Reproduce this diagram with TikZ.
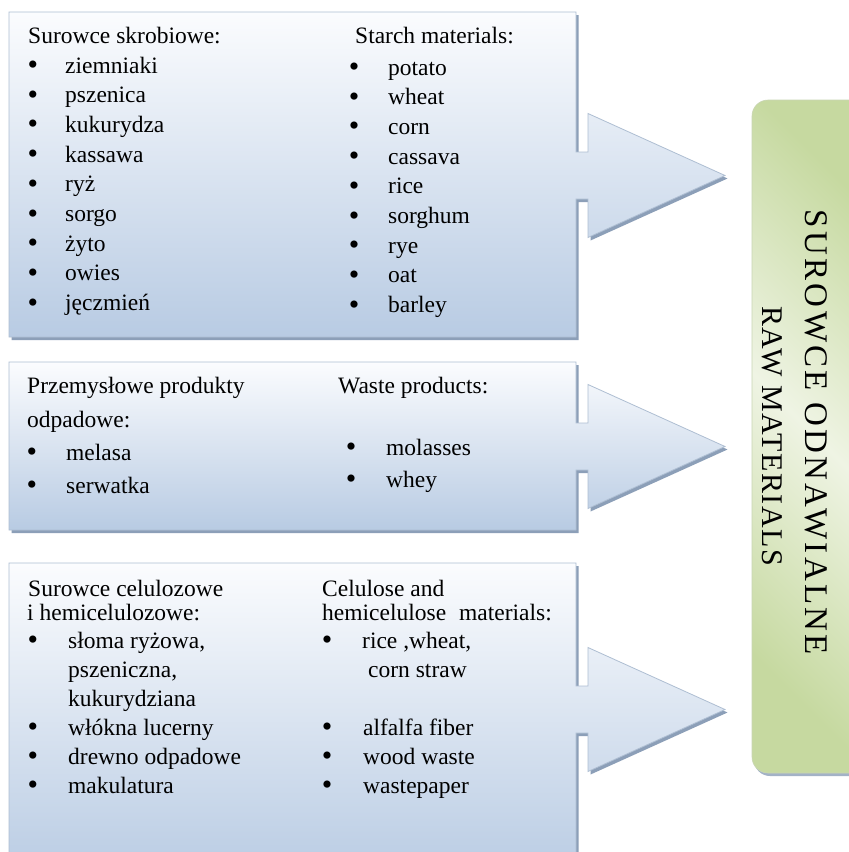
\documentclass[tikz,border=0pt]{standalone}
\usepackage{fontspec}
\setmainfont{Liberation Serif}
\definecolor{boxtop}{HTML}{FBFCFE}
\definecolor{boxbot}{HTML}{B8CBE3}
\definecolor{boxline}{HTML}{AEBED2}
\definecolor{shadowc}{HTML}{8C9FB8}
\definecolor{greenc}{HTML}{C6D9A0}
\definecolor{greenl}{HTML}{EFF4E4}
\definecolor{greenline}{HTML}{C9D6B4}
\newcommand\arrbox[3]{%
  \fill[shadowc, shift={(2.5,3)}] (9,#1) -- (576,#1) -- (576,{#3-23.5}) -- (588,{#3-23.5}) -- (588,{#3-62}) -- (725,#3) -- (588,{#3+62}) -- (588,{#3+23.5}) -- (576,{#3+23.5}) -- (576,#2) -- (9,#2) -- cycle;
  \path[boxfill] (9,#1) -- (576,#1) -- (576,{#3-23.5}) -- (588,{#3-23.5}) -- (588,{#3-62}) -- (725,#3) -- (588,{#3+62}) -- (588,{#3+23.5}) -- (576,{#3+23.5}) -- (576,#2) -- (9,#2) -- cycle;
}
\begin{document}
\begin{tikzpicture}[x=1pt,y=-1pt,
  boxfill/.style={top color=boxtop, bottom color=boxbot, draw=boxline, line width=0.8pt},
  txt/.style={anchor=base west, inner sep=0pt, font=\fontsize{23.5}{28}\selectfont},
  bul/.style={anchor=base, inner sep=0pt, yshift=-1.5pt, font=\fontsize{30}{32}\selectfont},
  vtxtA/.style={rotate=-90, anchor=base, inner sep=0pt, font=\fontsize{33}{40}\selectfont\addfontfeatures{LetterSpace=10}},
  vtxtB/.style={rotate=-90, anchor=base, inner sep=0pt, font=\fontsize{30}{36}\selectfont\addfontfeatures{LetterSpace=5}}]
\useasboundingbox (0,0) rectangle (849,852);
\clip (0,0) rectangle (849,852);
\fill[white] (0,0) rectangle (849,852);

% green target box
\fill[shadowc!80, rounded corners=16pt] (754,103) rectangle (880,776);
\path[rounded corners=16pt, top color=greenc, bottom color=greenc, middle color=greenl, shading angle=-45, draw=greenline, line width=0.6pt] (752,100) rectangle (880,773);
\node[vtxtA] (v1) at (805,432.5) {SUROWCE ODNAWIALNE};
\node[vtxtB] (v2) at (762,436) {RAW MATERIALS};

% arrow boxes
\arrbox{12}{337}{175.5}
\arrbox{362}{530}{446.5}
\arrbox{563}{880}{709.5}

% box 1
\node[txt] (s0) at (28,43) {Surowce skrobiowe:};
\foreach \t [count=\i from 0] in {ziemniaki,pszenica,kukurydza,kassawa,ryż,sorgo,żyto,owies,jęczmień}{
  \pgfmathsetmacro\yy{73+29.7*\i}
  \node[bul] (sb\i) at (33,\yy) {•};
  \node[txt] (s\i) at (65,\yy) {\t};
}
\node[txt] (e0) at (355,43) {Starch materials:};
\foreach \t [count=\i from 0] in {potato,wheat,corn,cassava,rice,sorghum,rye,oat,barley}{
  \pgfmathsetmacro\yy{75+29.7*\i}
  \node[bul] (eb\i) at (354,\yy) {•};
  \node[txt] (e\i) at (388,\yy) {\t};
}

% box 2
\node[txt] (p0) at (27,393) {Przemysłowe produkty};
\node[txt] (p1) at (27,427) {odpadowe:};
\node[bul] (pb2) at (32,460) {•};
\node[txt] (p2) at (66,460) {melasa};
\node[bul] (pb3) at (32,493) {•};
\node[txt] (p3) at (66,493) {serwatka};
\node[txt] (w0) at (338,393) {Waste products:};
\node[bul] (wb1) at (351,455) {•};
\node[txt] (w1) at (386,455) {molasses};
\node[bul] (wb2) at (351,487) {•};
\node[txt] (w2) at (386,487) {whey};

% box 3
\node[txt] (c0) at (28,596) {Surowce celulozowe};
\node[txt] (c1) at (27,620) {i hemicelulozowe:};
\node[bul] (cb2) at (33,648) {•};
\node[txt] (c2) at (68,648) {słoma ryżowa,};
\node[txt] (c3) at (68,677) {pszeniczna,};
\node[txt] (c4) at (68,706) {kukurydziana};
\node[bul] (cb5) at (33,735) {•};
\node[txt] (c5) at (68,735) {włókna lucerny};
\node[bul] (cb6) at (33,764) {•};
\node[txt] (c6) at (68,764) {drewno odpadowe};
\node[bul] (cb7) at (33,793) {•};
\node[txt] (c7) at (68,793) {makulatura};
\node[txt] (h0) at (322,596) {Celulose and};
\node[txt] (h1) at (322,620) {hemicelulose\hspace{0.3em} materials:};
\node[bul] (hb2) at (327,648) {•};
\node[txt] (h2) at (362,648) {rice ,wheat,};
\node[txt] (h3) at (368,677) {corn straw};
\node[bul] (hb4) at (327,735) {•};
\node[txt] (h4) at (363,735) {alfalfa fiber};
\node[bul] (hb5) at (327,764) {•};
\node[txt] (h5) at (363,764) {wood waste};
\node[bul] (hb6) at (327,793) {•};
\node[txt] (h6) at (363,793) {wastepaper};
\end{tikzpicture}
\end{document}
